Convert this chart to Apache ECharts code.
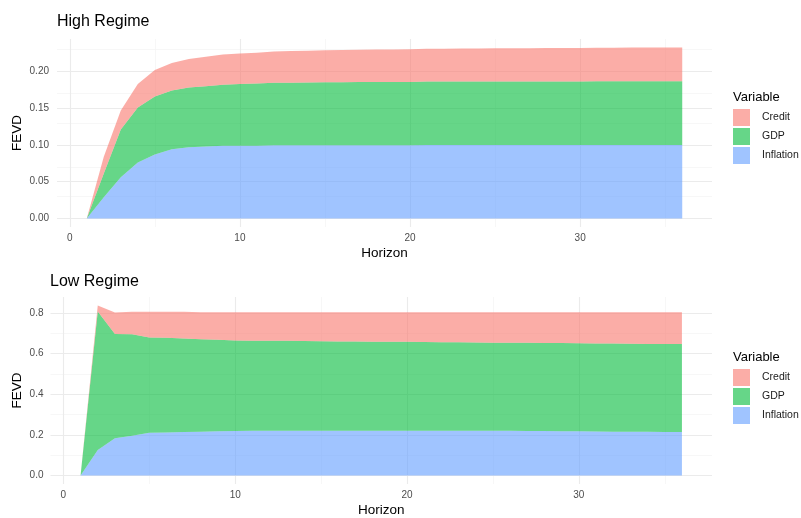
<!DOCTYPE html>
<html>
<head>
<meta charset="utf-8">
<script src="https://cdn.jsdelivr.net/npm/echarts@6/dist/echarts.min.js"></script>
<style>
  html, body { margin: 0; padding: 0; background: #ffffff; }
  #chart { width: 801px; height: 518px; }
</style>
</head>
<body>
<div id="chart"></div>
<script>
// Forecast error variance decomposition by horizon, two regimes
const horizons = Array.from({ length: 36 }, (_, i) => i + 1);
const variables = ['Credit', 'GDP', 'Inflation'];

const highInflation = [0, 0.029, 0.056, 0.076, 0.087, 0.094, 0.097, 0.098, 0.099, 0.099,
  0.099, 0.0995, 0.0995, 0.0995, 0.0995, 0.0995, 0.0995, 0.0995, 0.0995, 0.0995,
  0.1, 0.1, 0.1, 0.1, 0.1, 0.1, 0.1, 0.1, 0.1, 0.1,
  0.1, 0.1, 0.1, 0.1, 0.1, 0.1];
const highGDP = [0, 0.032, 0.065, 0.075, 0.079, 0.080, 0.081, 0.082, 0.083, 0.084,
  0.0845, 0.085, 0.0852, 0.0855, 0.0857, 0.0858, 0.086, 0.086, 0.086, 0.086,
  0.0862, 0.0862, 0.0862, 0.0863, 0.0863, 0.0863, 0.0864, 0.0864, 0.0864, 0.0864,
  0.0865, 0.0865, 0.0865, 0.0865, 0.0865, 0.0865];
const highCredit = [0, 0.023, 0.026, 0.032, 0.036, 0.0375, 0.039, 0.040, 0.041, 0.0415,
  0.042, 0.0425, 0.043, 0.0433, 0.0436, 0.0438, 0.044, 0.0442, 0.0444, 0.0446,
  0.0447, 0.0448, 0.0449, 0.045, 0.0451, 0.0452, 0.0453, 0.0454, 0.0455, 0.0456,
  0.0457, 0.0458, 0.0459, 0.046, 0.046, 0.046];

const lowInflation = [0, 0.126, 0.183, 0.196, 0.2105, 0.212, 0.214, 0.216, 0.218, 0.219,
  0.22, 0.22, 0.22, 0.22, 0.22, 0.22, 0.22, 0.22, 0.22, 0.22,
  0.22, 0.22, 0.22, 0.22, 0.22, 0.22, 0.219, 0.219, 0.218, 0.218,
  0.217, 0.216, 0.216, 0.215, 0.214, 0.214];
const lowGDP = [0, 0.682, 0.514, 0.499, 0.4685, 0.466, 0.460, 0.455, 0.450, 0.446,
  0.444, 0.443, 0.443, 0.442, 0.441, 0.440, 0.440, 0.439, 0.438, 0.438,
  0.437, 0.436, 0.436, 0.435, 0.434, 0.434, 0.434, 0.433, 0.434, 0.433,
  0.433, 0.434, 0.433, 0.433, 0.434, 0.433];
const lowCredit = [0, 0.029, 0.106, 0.111, 0.127, 0.128, 0.132, 0.133, 0.136, 0.139,
  0.140, 0.141, 0.141, 0.142, 0.143, 0.144, 0.144, 0.145, 0.146, 0.146,
  0.147, 0.148, 0.148, 0.149, 0.150, 0.150, 0.151, 0.152, 0.152, 0.153,
  0.154, 0.154, 0.155, 0.156, 0.156, 0.157];

const xTicks = [0, 10, 20, 30];
const xMinorTicks = [5, 15, 25, 35];
const highYTicks = [0, 0.05, 0.10, 0.15, 0.20];
const highYMinor = [0.025, 0.075, 0.125, 0.175, 0.225];
const lowYTicks = [0, 0.2, 0.4, 0.6, 0.8];
const lowYMinor = [0.1, 0.3, 0.5, 0.7];

const fillColors = {
  Credit: 'rgba(248,118,109,0.6)',
  GDP: 'rgba(0,186,56,0.6)',
  Inflation: 'rgba(97,156,255,0.6)'
};

const FONT = '"Liberation Sans", Arial, sans-serif';
const MAJOR = '#ebebeb';
const MINOR = '#f4f4f4';

// ggplot-style 5% padding around the data range
function padRange(lo, hi) {
  const d = (hi - lo) * 0.05;
  return [lo - d, hi + d];
}
const xRange = padRange(horizons[0], horizons[horizons.length - 1]);
function stackMax(a, b, c) {
  return Math.max(...a.map((v, i) => v + b[i] + c[i]));
}
const highYRange = padRange(0, stackMax(highInflation, highGDP, highCredit));
const lowYRange = padRange(0, stackMax(lowInflation, lowGDP, lowCredit));

const grids = [
  { left: 57, right: 89, top: 39, height: 188 },
  { left: 50.5, right: 89, top: 297, height: 188 }
];

function xAxisFor(idx) {
  return {
    type: 'value', gridIndex: idx,
    min: xRange[0], max: xRange[1],
    name: 'Horizon', nameLocation: 'middle', nameGap: 19, nameMoveOverlap: false,
    nameTextStyle: { fontFamily: FONT, fontSize: 13.5, color: '#000' },
    axisLine: { show: false }, axisTick: { show: false },
    splitLine: { show: false },
    axisLabel: {
      customValues: xTicks, margin: 6,
      fontFamily: FONT, fontSize: 10, color: '#4d4d4d'
    }
  };
}
function yAxisFor(idx, range, ticks, digits, gap, margin) {
  return {
    type: 'value', gridIndex: idx,
    min: range[0], max: range[1],
    name: 'FEVD', nameLocation: 'middle', nameGap: gap, nameRotate: 90,
    nameMoveOverlap: false,
    nameTextStyle: { fontFamily: FONT, fontSize: 13.5, color: '#000' },
    axisLine: { show: false }, axisTick: { show: false },
    splitLine: { show: false },
    axisLabel: {
      customValues: ticks, margin: margin,
      formatter: v => v.toFixed(digits),
      fontFamily: FONT, fontSize: 10, color: '#4d4d4d'
    }
  };
}

// panel grid lines drawn through the axes' own scales, beneath the areas
function gridLines(idx, yMajor, yMinor) {
  const data = [];
  xMinorTicks.forEach(v => data.push({ xAxis: v, lineStyle: { color: MINOR, width: 0.7 } }));
  yMinor.forEach(v => data.push({ yAxis: v, lineStyle: { color: MINOR, width: 0.7 } }));
  xTicks.forEach(v => data.push({ xAxis: v, lineStyle: { color: MAJOR, width: 1.1 } }));
  yMajor.forEach(v => data.push({ yAxis: v, lineStyle: { color: MAJOR, width: 1.1 } }));
  return {
    type: 'line', name: 'grid' + idx, xAxisIndex: idx, yAxisIndex: idx,
    data: [], silent: true, z: 0,
    markLine: {
      z: 0, zlevel: 0,
      silent: true, symbol: ['none', 'none'], label: { show: false },
      lineStyle: { type: 'solid' }, animation: false, data: data
    }
  };
}

// Each point is stored as [share, horizon] so that the first numeric
// column (the one ECharts stacks) is the share; encode maps it to y.
function areaSeries(name, values, idx) {
  return {
    type: 'line', name: name, xAxisIndex: idx, yAxisIndex: idx,
    stack: 'fevd' + idx, z: 3,
    data: horizons.map((h, i) => [values[i], h]),
    encode: { x: 1, y: 0 },
    showSymbol: false, symbol: 'none',
    lineStyle: { width: 0 },
    itemStyle: { color: fillColors[name] },
    areaStyle: { color: fillColors[name], opacity: 1 },
    emphasis: { disabled: true }
  };
}

function legendFor(top) {
  return {
    data: variables, orient: 'vertical', left: 733, top: top, padding: 0,
    icon: 'rect', itemWidth: 17, itemHeight: 17, itemGap: 2,
    selectedMode: false,
    itemStyle: { borderWidth: 0 },
    textStyle: { fontFamily: FONT, fontSize: 10.5, color: '#1a1a1a', padding: [0, 0, 0, 7] }
  };
}

function titleAt(text, left, top, size) {
  return {
    text: text, left: left, top: top, padding: 0,
    textStyle: { fontFamily: FONT, fontSize: size, fontWeight: 'normal', color: '#000' }
  };
}

const option = {
  animation: false,
  backgroundColor: '#ffffff',
  title: [
    titleAt('High Regime', 57, 14, 16),
    titleAt('Low Regime', 50, 274, 16),
    titleAt('Variable', 733, 91, 13),
    titleAt('Variable', 733, 351, 13)
  ],
  legend: [legendFor(109), legendFor(369)],
  grid: grids,
  xAxis: [xAxisFor(0), xAxisFor(1)],
  yAxis: [
    yAxisFor(0, highYRange, highYTicks, 2, 33, 8),
    yAxisFor(1, lowYRange, lowYTicks, 1, 26, 7)
  ],
  series: [
    gridLines(0, highYTicks, highYMinor),
    gridLines(1, lowYTicks, lowYMinor),
    areaSeries('Inflation', highInflation, 0),
    areaSeries('GDP', highGDP, 0),
    areaSeries('Credit', highCredit, 0),
    areaSeries('Inflation', lowInflation, 1),
    areaSeries('GDP', lowGDP, 1),
    areaSeries('Credit', lowCredit, 1)
  ]
};

const chart = echarts.init(document.getElementById('chart'), null, { renderer: 'canvas' });
chart.setOption(option);
</script>
</body>
</html>
